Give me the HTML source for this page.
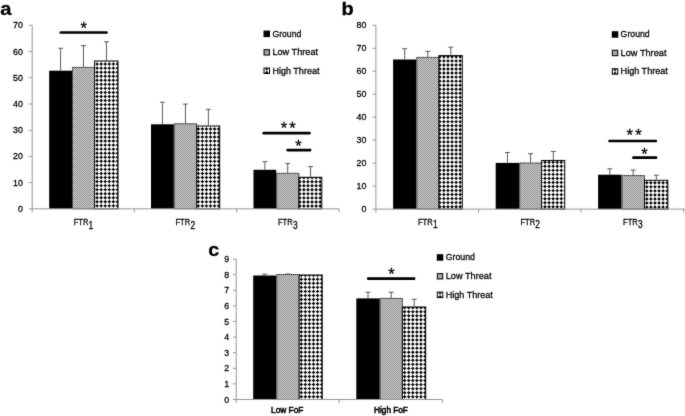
<!DOCTYPE html>
<html lang="en"><head><meta charset="utf-8"><title>Figure</title>
<style>
html,body{margin:0;padding:0;background:#fff;}
body{width:685px;height:416px;overflow:hidden;}
svg{display:block;font-family:"Liberation Sans", sans-serif;}
</style></head><body>
<svg width="685" height="416" viewBox="0 0 685 416">
<rect width="685" height="416" fill="#fff"/>
<defs>
<filter id="soft" x="0" y="0" width="685" height="416" filterUnits="userSpaceOnUse" color-interpolation-filters="sRGB"><feConvolveMatrix order="3" kernelMatrix="0.02 0.07 0.02 0.07 0.64 0.07 0.02 0.07 0.02" divisor="1" edgeMode="duplicate" preserveAlpha="true"/></filter>
<pattern id="pg" width="2" height="2" patternUnits="userSpaceOnUse"><rect width="2" height="2" fill="#c4c4c4"/><rect width="1" height="1" fill="#9a9a9a"/><rect x="1" y="1" width="1" height="1" fill="#9a9a9a"/></pattern>
<clipPath id="c0"><rect x="94.60" y="61.00" width="23.40" height="147.80"/></clipPath><clipPath id="c1"><rect x="196.75" y="126.00" width="22.95" height="82.80"/></clipPath><clipPath id="c2"><rect x="298.90" y="177.30" width="22.90" height="31.50"/></clipPath><clipPath id="c3"><rect x="439.00" y="55.60" width="23.30" height="153.50"/></clipPath><clipPath id="c4"><rect x="541.60" y="160.45" width="23.10" height="48.65"/></clipPath><clipPath id="c5"><rect x="644.50" y="180.30" width="23.30" height="28.80"/></clipPath><clipPath id="c6"><rect x="299.20" y="275.00" width="23.00" height="124.50"/></clipPath><clipPath id="c7"><rect x="402.40" y="307.00" width="23.30" height="92.50"/></clipPath>
<path id="dc" fill="#000" d="M0 -1.72l1.72 1.72-1.72 1.72-1.72-1.72zM0 2.33l1.72 1.72-1.72 1.72-1.72-1.72zM0 6.38l1.72 1.72-1.72 1.72-1.72-1.72zM0 10.43l1.72 1.72-1.72 1.72-1.72-1.72zM0 14.48l1.72 1.72-1.72 1.72-1.72-1.72zM0 18.53l1.72 1.72-1.72 1.72-1.72-1.72zM0 22.58l1.72 1.72-1.72 1.72-1.72-1.72zM0 26.63l1.72 1.72-1.72 1.72-1.72-1.72zM0 30.68l1.72 1.72-1.72 1.72-1.72-1.72zM0 34.73l1.72 1.72-1.72 1.72-1.72-1.72zM0 38.78l1.72 1.72-1.72 1.72-1.72-1.72zM0 42.83l1.72 1.72-1.72 1.72-1.72-1.72zM0 46.88l1.72 1.72-1.72 1.72-1.72-1.72zM0 50.93l1.72 1.72-1.72 1.72-1.72-1.72zM0 54.98l1.72 1.72-1.72 1.72-1.72-1.72zM0 59.03l1.72 1.72-1.72 1.72-1.72-1.72zM0 63.08l1.72 1.72-1.72 1.72-1.72-1.72zM0 67.13l1.72 1.72-1.72 1.72-1.72-1.72zM0 71.18l1.72 1.72-1.72 1.72-1.72-1.72zM0 75.23l1.72 1.72-1.72 1.72-1.72-1.72zM0 79.28l1.72 1.72-1.72 1.72-1.72-1.72zM0 83.33l1.72 1.72-1.72 1.72-1.72-1.72zM0 87.38l1.72 1.72-1.72 1.72-1.72-1.72zM0 91.43l1.72 1.72-1.72 1.72-1.72-1.72zM0 95.48l1.72 1.72-1.72 1.72-1.72-1.72zM0 99.53l1.72 1.72-1.72 1.72-1.72-1.72zM0 103.58l1.72 1.72-1.72 1.72-1.72-1.72zM0 107.63l1.72 1.72-1.72 1.72-1.72-1.72zM0 111.68l1.72 1.72-1.72 1.72-1.72-1.72zM0 115.73l1.72 1.72-1.72 1.72-1.72-1.72zM0 119.78l1.72 1.72-1.72 1.72-1.72-1.72zM0 123.83l1.72 1.72-1.72 1.72-1.72-1.72zM0 127.88l1.72 1.72-1.72 1.72-1.72-1.72zM0 131.93l1.72 1.72-1.72 1.72-1.72-1.72zM0 135.98l1.72 1.72-1.72 1.72-1.72-1.72zM0 140.03l1.72 1.72-1.72 1.72-1.72-1.72zM0 144.08l1.72 1.72-1.72 1.72-1.72-1.72zM0 148.13l1.72 1.72-1.72 1.72-1.72-1.72zM0 152.18l1.72 1.72-1.72 1.72-1.72-1.72zM0 156.23l1.72 1.72-1.72 1.72-1.72-1.72zM0 160.28l1.72 1.72-1.72 1.72-1.72-1.72zM0 164.33l1.72 1.72-1.72 1.72-1.72-1.72z"/>
</defs>
<g filter="url(#soft)">
<rect width="685" height="416" fill="#fff"/>
<rect x="49.20" y="70.70" width="22.80" height="138.10" fill="#000"/>
<rect x="72.50" y="67.40" width="22.10" height="141.40" fill="url(#pg)" stroke="#222" stroke-width="1" stroke-dasharray="1.5 0.5"/>
<rect x="94.60" y="61.00" width="23.40" height="147.80" fill="#fff"/>
<g clip-path="url(#c0)"><path d="M88.96 61.0V208.8M93.03 61.0V208.8M97.10 61.0V208.8M101.17 61.0V208.8M105.24 61.0V208.8M109.31 61.0V208.8M113.38 61.0V208.8M117.45 61.0V208.8M121.52 61.0V208.8M125.59 61.0V208.8M94.6 56.00H118.0M94.6 60.05H118.0M94.6 64.10H118.0M94.6 68.15H118.0M94.6 72.20H118.0M94.6 76.25H118.0M94.6 80.30H118.0M94.6 84.35H118.0M94.6 88.40H118.0M94.6 92.45H118.0M94.6 96.50H118.0M94.6 100.55H118.0M94.6 104.60H118.0M94.6 108.65H118.0M94.6 112.70H118.0M94.6 116.75H118.0M94.6 120.80H118.0M94.6 124.85H118.0M94.6 128.90H118.0M94.6 132.95H118.0M94.6 137.00H118.0M94.6 141.05H118.0M94.6 145.10H118.0M94.6 149.15H118.0M94.6 153.20H118.0M94.6 157.25H118.0M94.6 161.30H118.0M94.6 165.35H118.0M94.6 169.40H118.0M94.6 173.45H118.0M94.6 177.50H118.0M94.6 181.55H118.0M94.6 185.60H118.0M94.6 189.65H118.0M94.6 193.70H118.0M94.6 197.75H118.0M94.6 201.80H118.0M94.6 205.85H118.0M94.6 209.90H118.0M94.6 213.95H118.0" stroke="#989898" stroke-width="0.6" fill="none"/><use href="#dc" x="88.96" y="56.00"/><use href="#dc" x="93.03" y="56.00"/><use href="#dc" x="97.10" y="56.00"/><use href="#dc" x="101.17" y="56.00"/><use href="#dc" x="105.24" y="56.00"/><use href="#dc" x="109.31" y="56.00"/><use href="#dc" x="113.38" y="56.00"/><use href="#dc" x="117.45" y="56.00"/><use href="#dc" x="121.52" y="56.00"/><use href="#dc" x="125.59" y="56.00"/></g>
<rect x="94.60" y="61.00" width="23.40" height="147.80" fill="none" stroke="#000" stroke-width="1"/>
<path d="M60.60 70.70V48.30M58.10 48.30H63.10" stroke="#5a5a5a" stroke-width="1" fill="none"/>
<path d="M83.45 67.40V45.60M80.95 45.60H85.95" stroke="#5a5a5a" stroke-width="1" fill="none"/>
<path d="M106.45 61.00V41.80M103.95 41.80H108.95" stroke="#5a5a5a" stroke-width="1" fill="none"/>
<rect x="151.00" y="124.30" width="22.80" height="84.50" fill="#000"/>
<rect x="174.30" y="123.80" width="22.45" height="85.00" fill="url(#pg)" stroke="#222" stroke-width="1" stroke-dasharray="1.5 0.5"/>
<rect x="196.75" y="126.00" width="22.95" height="82.80" fill="#fff"/>
<g clip-path="url(#c1)"><path d="M190.16 126.0V208.8M194.23 126.0V208.8M198.30 126.0V208.8M202.37 126.0V208.8M206.44 126.0V208.8M210.51 126.0V208.8M214.58 126.0V208.8M218.65 126.0V208.8M222.72 126.0V208.8M226.79 126.0V208.8M196.8 120.85H219.7M196.8 124.90H219.7M196.8 128.95H219.7M196.8 133.00H219.7M196.8 137.05H219.7M196.8 141.10H219.7M196.8 145.15H219.7M196.8 149.20H219.7M196.8 153.25H219.7M196.8 157.30H219.7M196.8 161.35H219.7M196.8 165.40H219.7M196.8 169.45H219.7M196.8 173.50H219.7M196.8 177.55H219.7M196.8 181.60H219.7M196.8 185.65H219.7M196.8 189.70H219.7M196.8 193.75H219.7M196.8 197.80H219.7M196.8 201.85H219.7M196.8 205.90H219.7M196.8 209.95H219.7M196.8 214.00H219.7" stroke="#989898" stroke-width="0.6" fill="none"/><use href="#dc" x="190.16" y="120.85"/><use href="#dc" x="194.23" y="120.85"/><use href="#dc" x="198.30" y="120.85"/><use href="#dc" x="202.37" y="120.85"/><use href="#dc" x="206.44" y="120.85"/><use href="#dc" x="210.51" y="120.85"/><use href="#dc" x="214.58" y="120.85"/><use href="#dc" x="218.65" y="120.85"/><use href="#dc" x="222.72" y="120.85"/><use href="#dc" x="226.79" y="120.85"/></g>
<rect x="196.75" y="126.00" width="22.95" height="82.80" fill="none" stroke="#000" stroke-width="1"/>
<path d="M162.40 124.30V102.20M159.90 102.20H164.90" stroke="#5a5a5a" stroke-width="1" fill="none"/>
<path d="M185.43 123.80V104.10M182.93 104.10H187.93" stroke="#5a5a5a" stroke-width="1" fill="none"/>
<path d="M208.38 126.00V109.30M205.88 109.30H210.88" stroke="#5a5a5a" stroke-width="1" fill="none"/>
<rect x="253.50" y="169.80" width="22.70" height="39.00" fill="#000"/>
<rect x="276.70" y="173.30" width="22.20" height="35.50" fill="url(#pg)" stroke="#222" stroke-width="1" stroke-dasharray="1.5 0.5"/>
<rect x="298.90" y="177.30" width="22.90" height="31.50" fill="#fff"/>
<g clip-path="url(#c2)"><path d="M291.69 177.3V208.8M295.76 177.3V208.8M299.83 177.3V208.8M303.90 177.3V208.8M307.97 177.3V208.8M312.04 177.3V208.8M316.11 177.3V208.8M320.18 177.3V208.8M324.25 177.3V208.8M328.32 177.3V208.8M298.9 169.55H321.8M298.9 173.60H321.8M298.9 177.65H321.8M298.9 181.70H321.8M298.9 185.75H321.8M298.9 189.80H321.8M298.9 193.85H321.8M298.9 197.90H321.8M298.9 201.95H321.8M298.9 206.00H321.8M298.9 210.05H321.8M298.9 214.10H321.8" stroke="#989898" stroke-width="0.6" fill="none"/><use href="#dc" x="291.69" y="169.55"/><use href="#dc" x="295.76" y="169.55"/><use href="#dc" x="299.83" y="169.55"/><use href="#dc" x="303.90" y="169.55"/><use href="#dc" x="307.97" y="169.55"/><use href="#dc" x="312.04" y="169.55"/><use href="#dc" x="316.11" y="169.55"/><use href="#dc" x="320.18" y="169.55"/><use href="#dc" x="324.25" y="169.55"/><use href="#dc" x="328.32" y="169.55"/></g>
<rect x="298.90" y="177.30" width="22.90" height="31.50" fill="none" stroke="#000" stroke-width="1"/>
<path d="M264.85 169.80V161.70M262.35 161.70H267.35" stroke="#5a5a5a" stroke-width="1" fill="none"/>
<path d="M287.70 173.30V163.50M285.20 163.50H290.20" stroke="#5a5a5a" stroke-width="1" fill="none"/>
<path d="M310.50 177.30V166.60M308.00 166.60H313.00" stroke="#5a5a5a" stroke-width="1" fill="none"/>
<path d="M32.20 25.40V212.30M28.90 208.80H339.20" stroke="#969696" stroke-width="1" fill="none"/>
<path d="M28.90 182.60H32.20M28.90 156.40H32.20M28.90 130.20H32.20M28.90 104.00H32.20M28.90 77.80H32.20M28.90 51.60H32.20M28.90 25.40H32.20M134.30 208.80V212.30M236.60 208.80V212.30M339.00 208.80V212.30" stroke="#969696" stroke-width="1" fill="none"/>
<text x="22.8" y="211.7" font-size="9.3" text-anchor="end" textLength="4.9" lengthAdjust="spacingAndGlyphs" fill="#000" stroke="#000" stroke-width="0.28">0</text>
<text x="22.8" y="185.5" font-size="9.3" text-anchor="end" textLength="9.8" lengthAdjust="spacingAndGlyphs" fill="#000" stroke="#000" stroke-width="0.28">10</text>
<text x="22.8" y="159.3" font-size="9.3" text-anchor="end" textLength="9.8" lengthAdjust="spacingAndGlyphs" fill="#000" stroke="#000" stroke-width="0.28">20</text>
<text x="22.8" y="133.1" font-size="9.3" text-anchor="end" textLength="9.8" lengthAdjust="spacingAndGlyphs" fill="#000" stroke="#000" stroke-width="0.28">30</text>
<text x="22.8" y="106.9" font-size="9.3" text-anchor="end" textLength="9.8" lengthAdjust="spacingAndGlyphs" fill="#000" stroke="#000" stroke-width="0.28">40</text>
<text x="22.8" y="80.7" font-size="9.3" text-anchor="end" textLength="9.8" lengthAdjust="spacingAndGlyphs" fill="#000" stroke="#000" stroke-width="0.28">50</text>
<text x="22.8" y="54.5" font-size="9.3" text-anchor="end" textLength="9.8" lengthAdjust="spacingAndGlyphs" fill="#000" stroke="#000" stroke-width="0.28">60</text>
<text x="22.8" y="28.3" font-size="9.3" text-anchor="end" textLength="9.8" lengthAdjust="spacingAndGlyphs" fill="#000" stroke="#000" stroke-width="0.28">70</text>
<line x1="60.80" y1="32.50" x2="106.50" y2="32.50" stroke="#000" stroke-width="2.7" stroke-linecap="round"/>
<text x="83.7" y="33.8" font-size="16.5" text-anchor="middle" fill="#000" stroke="#000" stroke-width="0.28">*</text>
<line x1="263.70" y1="133.20" x2="309.40" y2="133.20" stroke="#000" stroke-width="2.7" stroke-linecap="round"/>
<text x="283.9" y="133.7" font-size="16.5" text-anchor="middle" fill="#000" stroke="#000" stroke-width="0.28">*</text>
<text x="292.5" y="133.7" font-size="16.5" text-anchor="middle" fill="#000" stroke="#000" stroke-width="0.28">*</text>
<line x1="287.60" y1="150.10" x2="310.10" y2="150.10" stroke="#000" stroke-width="2.7" stroke-linecap="round"/>
<text x="298.4" y="151.8" font-size="16.5" text-anchor="middle" fill="#000" stroke="#000" stroke-width="0.28">*</text>
<rect x="263.50" y="30.60" width="6.5" height="6.5" fill="#000"/>
<text x="272.4" y="36.8" font-size="9.4" textLength="28.9" lengthAdjust="spacingAndGlyphs" fill="#000" stroke="#000" stroke-width="0.28">Ground</text>
<rect x="263.50" y="49.10" width="6.5" height="6.5" fill="#161616"/><rect x="264.65" y="50.25" width="4.2" height="4.2" fill="#a8a8a8"/>
<text x="272.4" y="55.3" font-size="9.4" textLength="45.7" lengthAdjust="spacingAndGlyphs" fill="#000" stroke="#000" stroke-width="0.28">Low Threat</text>
<rect x="264.00" y="68.00" width="5.5" height="5.5" fill="#fff" stroke="#000" stroke-width="1"/>
<path d="M264.80 68.50H268.70L266.75 70.70ZM264.80 73.00H268.70L266.75 70.80Z" fill="#000"/>
<text x="272.4" y="73.7" font-size="9.4" textLength="47.1" lengthAdjust="spacingAndGlyphs" fill="#000" stroke="#000" stroke-width="0.28">High Threat</text>
<text x="73.7" y="225.2" font-size="9.5" textLength="14.7" lengthAdjust="spacingAndGlyphs" fill="#000" stroke="#000" stroke-width="0.28">FTR</text>
<text x="88.6" y="228.5" font-size="10.3" textLength="4.7" lengthAdjust="spacingAndGlyphs" fill="#000" stroke="#000" stroke-width="0.28">1</text>
<text x="175.5" y="225.2" font-size="9.5" textLength="14.7" lengthAdjust="spacingAndGlyphs" fill="#000" stroke="#000" stroke-width="0.28">FTR</text>
<text x="190.4" y="228.5" font-size="10.3" textLength="4.7" lengthAdjust="spacingAndGlyphs" fill="#000" stroke="#000" stroke-width="0.28">2</text>
<text x="278.0" y="225.2" font-size="9.5" textLength="14.7" lengthAdjust="spacingAndGlyphs" fill="#000" stroke="#000" stroke-width="0.28">FTR</text>
<text x="292.9" y="228.5" font-size="10.3" textLength="4.7" lengthAdjust="spacingAndGlyphs" fill="#000" stroke="#000" stroke-width="0.28">3</text>
<text x="0.2" y="15.1" font-size="17.5" textLength="11.2" lengthAdjust="spacingAndGlyphs" font-weight="bold" fill="#000" stroke="#000" stroke-width="0.28">a</text>
<rect x="393.10" y="59.50" width="23.20" height="149.60" fill="#000"/>
<rect x="416.80" y="57.40" width="22.20" height="151.70" fill="url(#pg)" stroke="#222" stroke-width="1" stroke-dasharray="1.5 0.5"/>
<rect x="439.00" y="55.60" width="23.30" height="153.50" fill="#fff"/>
<g clip-path="url(#c3)"><path d="M431.69 55.6V209.1M435.76 55.6V209.1M439.83 55.6V209.1M443.90 55.6V209.1M447.97 55.6V209.1M452.04 55.6V209.1M456.11 55.6V209.1M460.18 55.6V209.1M464.25 55.6V209.1M468.32 55.6V209.1M439.0 48.75H462.3M439.0 52.80H462.3M439.0 56.85H462.3M439.0 60.90H462.3M439.0 64.95H462.3M439.0 69.00H462.3M439.0 73.05H462.3M439.0 77.10H462.3M439.0 81.15H462.3M439.0 85.20H462.3M439.0 89.25H462.3M439.0 93.30H462.3M439.0 97.35H462.3M439.0 101.40H462.3M439.0 105.45H462.3M439.0 109.50H462.3M439.0 113.55H462.3M439.0 117.60H462.3M439.0 121.65H462.3M439.0 125.70H462.3M439.0 129.75H462.3M439.0 133.80H462.3M439.0 137.85H462.3M439.0 141.90H462.3M439.0 145.95H462.3M439.0 150.00H462.3M439.0 154.05H462.3M439.0 158.10H462.3M439.0 162.15H462.3M439.0 166.20H462.3M439.0 170.25H462.3M439.0 174.30H462.3M439.0 178.35H462.3M439.0 182.40H462.3M439.0 186.45H462.3M439.0 190.50H462.3M439.0 194.55H462.3M439.0 198.60H462.3M439.0 202.65H462.3M439.0 206.70H462.3M439.0 210.75H462.3M439.0 214.80H462.3" stroke="#989898" stroke-width="0.6" fill="none"/><use href="#dc" x="431.69" y="48.75"/><use href="#dc" x="435.76" y="48.75"/><use href="#dc" x="439.83" y="48.75"/><use href="#dc" x="443.90" y="48.75"/><use href="#dc" x="447.97" y="48.75"/><use href="#dc" x="452.04" y="48.75"/><use href="#dc" x="456.11" y="48.75"/><use href="#dc" x="460.18" y="48.75"/><use href="#dc" x="464.25" y="48.75"/><use href="#dc" x="468.32" y="48.75"/></g>
<rect x="439.00" y="55.60" width="23.30" height="153.50" fill="none" stroke="#000" stroke-width="1"/>
<path d="M404.70 59.50V48.70M402.20 48.70H407.20" stroke="#5a5a5a" stroke-width="1" fill="none"/>
<path d="M427.80 57.40V51.40M425.30 51.40H430.30" stroke="#5a5a5a" stroke-width="1" fill="none"/>
<path d="M450.80 55.60V47.20M448.30 47.20H453.30" stroke="#5a5a5a" stroke-width="1" fill="none"/>
<rect x="495.70" y="162.90" width="23.50" height="46.20" fill="#000"/>
<rect x="519.70" y="163.00" width="21.90" height="46.10" fill="url(#pg)" stroke="#222" stroke-width="1" stroke-dasharray="1.5 0.5"/>
<rect x="541.60" y="160.45" width="23.10" height="48.65" fill="#fff"/>
<g clip-path="url(#c4)"><path d="M536.86 160.4V209.1M540.93 160.4V209.1M545.00 160.4V209.1M549.07 160.4V209.1M553.14 160.4V209.1M557.21 160.4V209.1M561.28 160.4V209.1M565.35 160.4V209.1M569.42 160.4V209.1M541.6 154.15H564.7M541.6 158.20H564.7M541.6 162.25H564.7M541.6 166.30H564.7M541.6 170.35H564.7M541.6 174.40H564.7M541.6 178.45H564.7M541.6 182.50H564.7M541.6 186.55H564.7M541.6 190.60H564.7M541.6 194.65H564.7M541.6 198.70H564.7M541.6 202.75H564.7M541.6 206.80H564.7M541.6 210.85H564.7M541.6 214.90H564.7" stroke="#989898" stroke-width="0.6" fill="none"/><use href="#dc" x="536.86" y="154.15"/><use href="#dc" x="540.93" y="154.15"/><use href="#dc" x="545.00" y="154.15"/><use href="#dc" x="549.07" y="154.15"/><use href="#dc" x="553.14" y="154.15"/><use href="#dc" x="557.21" y="154.15"/><use href="#dc" x="561.28" y="154.15"/><use href="#dc" x="565.35" y="154.15"/><use href="#dc" x="569.42" y="154.15"/></g>
<rect x="541.60" y="160.45" width="23.10" height="48.65" fill="none" stroke="#000" stroke-width="1"/>
<path d="M507.45 162.90V152.50M504.95 152.50H509.95" stroke="#5a5a5a" stroke-width="1" fill="none"/>
<path d="M530.55 163.00V153.70M528.05 153.70H533.05" stroke="#5a5a5a" stroke-width="1" fill="none"/>
<path d="M553.30 160.45V151.50M550.80 151.50H555.80" stroke="#5a5a5a" stroke-width="1" fill="none"/>
<rect x="598.10" y="174.70" width="23.40" height="34.40" fill="#000"/>
<rect x="622.00" y="175.60" width="22.50" height="33.50" fill="url(#pg)" stroke="#222" stroke-width="1" stroke-dasharray="1.5 0.5"/>
<rect x="644.50" y="180.30" width="23.30" height="28.80" fill="#fff"/>
<g clip-path="url(#c5)"><path d="M638.66 180.3V209.1M642.73 180.3V209.1M646.80 180.3V209.1M650.87 180.3V209.1M654.94 180.3V209.1M659.01 180.3V209.1M663.08 180.3V209.1M667.15 180.3V209.1M671.22 180.3V209.1M675.29 180.3V209.1M644.5 174.70H667.8M644.5 178.75H667.8M644.5 182.80H667.8M644.5 186.85H667.8M644.5 190.90H667.8M644.5 194.95H667.8M644.5 199.00H667.8M644.5 203.05H667.8M644.5 207.10H667.8M644.5 211.15H667.8M644.5 215.20H667.8" stroke="#989898" stroke-width="0.6" fill="none"/><use href="#dc" x="638.66" y="174.70"/><use href="#dc" x="642.73" y="174.70"/><use href="#dc" x="646.80" y="174.70"/><use href="#dc" x="650.87" y="174.70"/><use href="#dc" x="654.94" y="174.70"/><use href="#dc" x="659.01" y="174.70"/><use href="#dc" x="663.08" y="174.70"/><use href="#dc" x="667.15" y="174.70"/><use href="#dc" x="671.22" y="174.70"/><use href="#dc" x="675.29" y="174.70"/></g>
<rect x="644.50" y="180.30" width="23.30" height="28.80" fill="none" stroke="#000" stroke-width="1"/>
<path d="M609.80 174.70V168.80M607.30 168.80H612.30" stroke="#5a5a5a" stroke-width="1" fill="none"/>
<path d="M633.15 175.60V170.00M630.65 170.00H635.65" stroke="#5a5a5a" stroke-width="1" fill="none"/>
<path d="M656.30 180.30V175.20M653.80 175.20H658.80" stroke="#5a5a5a" stroke-width="1" fill="none"/>
<path d="M375.90 25.30V212.60M372.60 209.10H685.00" stroke="#969696" stroke-width="1" fill="none"/>
<path d="M372.60 186.12H375.90M372.60 163.15H375.90M372.60 140.18H375.90M372.60 117.20H375.90M372.60 94.22H375.90M372.60 71.25H375.90M372.60 48.28H375.90M372.60 25.30H375.90M478.50 209.10V212.60M581.00 209.10V212.60M683.60 209.10V212.60" stroke="#969696" stroke-width="1" fill="none"/>
<text x="366.4" y="212.0" font-size="9.3" text-anchor="end" textLength="4.9" lengthAdjust="spacingAndGlyphs" fill="#000" stroke="#000" stroke-width="0.28">0</text>
<text x="366.4" y="189.0" font-size="9.3" text-anchor="end" textLength="9.8" lengthAdjust="spacingAndGlyphs" fill="#000" stroke="#000" stroke-width="0.28">10</text>
<text x="366.4" y="166.1" font-size="9.3" text-anchor="end" textLength="9.8" lengthAdjust="spacingAndGlyphs" fill="#000" stroke="#000" stroke-width="0.28">20</text>
<text x="366.4" y="143.1" font-size="9.3" text-anchor="end" textLength="9.8" lengthAdjust="spacingAndGlyphs" fill="#000" stroke="#000" stroke-width="0.28">30</text>
<text x="366.4" y="120.1" font-size="9.3" text-anchor="end" textLength="9.8" lengthAdjust="spacingAndGlyphs" fill="#000" stroke="#000" stroke-width="0.28">40</text>
<text x="366.4" y="97.1" font-size="9.3" text-anchor="end" textLength="9.8" lengthAdjust="spacingAndGlyphs" fill="#000" stroke="#000" stroke-width="0.28">50</text>
<text x="366.4" y="74.2" font-size="9.3" text-anchor="end" textLength="9.8" lengthAdjust="spacingAndGlyphs" fill="#000" stroke="#000" stroke-width="0.28">60</text>
<text x="366.4" y="51.2" font-size="9.3" text-anchor="end" textLength="9.8" lengthAdjust="spacingAndGlyphs" fill="#000" stroke="#000" stroke-width="0.28">70</text>
<text x="366.4" y="28.2" font-size="9.3" text-anchor="end" textLength="9.8" lengthAdjust="spacingAndGlyphs" fill="#000" stroke="#000" stroke-width="0.28">80</text>
<line x1="609.50" y1="141.00" x2="655.80" y2="141.00" stroke="#000" stroke-width="2.7" stroke-linecap="round"/>
<text x="629.8" y="141.4" font-size="16.5" text-anchor="middle" fill="#000" stroke="#000" stroke-width="0.28">*</text>
<text x="638.4" y="141.4" font-size="16.5" text-anchor="middle" fill="#000" stroke="#000" stroke-width="0.28">*</text>
<line x1="633.40" y1="157.70" x2="656.10" y2="157.70" stroke="#000" stroke-width="2.7" stroke-linecap="round"/>
<text x="644.4" y="159.6" font-size="16.5" text-anchor="middle" fill="#000" stroke="#000" stroke-width="0.28">*</text>
<rect x="611.80" y="31.20" width="6.5" height="6.5" fill="#000"/>
<text x="620.6" y="37.4" font-size="9.4" textLength="29.1" lengthAdjust="spacingAndGlyphs" fill="#000" stroke="#000" stroke-width="0.28">Ground</text>
<rect x="611.80" y="49.70" width="6.5" height="6.5" fill="#161616"/><rect x="612.95" y="50.85" width="4.2" height="4.2" fill="#a8a8a8"/>
<text x="620.6" y="55.9" font-size="9.4" textLength="45.9" lengthAdjust="spacingAndGlyphs" fill="#000" stroke="#000" stroke-width="0.28">Low Threat</text>
<rect x="612.30" y="68.70" width="5.5" height="5.5" fill="#fff" stroke="#000" stroke-width="1"/>
<path d="M613.10 69.20H617.00L615.05 71.40ZM613.10 73.70H617.00L615.05 71.50Z" fill="#000"/>
<text x="620.6" y="74.4" font-size="9.4" textLength="47.2" lengthAdjust="spacingAndGlyphs" fill="#000" stroke="#000" stroke-width="0.28">High Threat</text>
<text x="418.0" y="224.8" font-size="9.5" textLength="14.7" lengthAdjust="spacingAndGlyphs" fill="#000" stroke="#000" stroke-width="0.28">FTR</text>
<text x="432.9" y="228.1" font-size="10.3" textLength="4.7" lengthAdjust="spacingAndGlyphs" fill="#000" stroke="#000" stroke-width="0.28">1</text>
<text x="520.4" y="224.8" font-size="9.5" textLength="14.7" lengthAdjust="spacingAndGlyphs" fill="#000" stroke="#000" stroke-width="0.28">FTR</text>
<text x="535.3" y="228.1" font-size="10.3" textLength="4.7" lengthAdjust="spacingAndGlyphs" fill="#000" stroke="#000" stroke-width="0.28">2</text>
<text x="623.1" y="224.8" font-size="9.5" textLength="14.7" lengthAdjust="spacingAndGlyphs" fill="#000" stroke="#000" stroke-width="0.28">FTR</text>
<text x="638.0" y="228.1" font-size="10.3" textLength="4.7" lengthAdjust="spacingAndGlyphs" fill="#000" stroke="#000" stroke-width="0.28">3</text>
<text x="341.4" y="14.6" font-size="18.7" textLength="12.2" lengthAdjust="spacingAndGlyphs" font-weight="bold" fill="#000" stroke="#000" stroke-width="0.28">b</text>
<rect x="253.20" y="275.50" width="23.10" height="124.00" fill="#000"/>
<rect x="276.80" y="274.50" width="22.40" height="125.00" fill="url(#pg)" stroke="#222" stroke-width="1" stroke-dasharray="1.5 0.5"/>
<rect x="299.20" y="275.00" width="23.00" height="124.50" fill="#fff"/>
<g clip-path="url(#c6)"><path d="M293.16 275.0V399.5M297.23 275.0V399.5M301.30 275.0V399.5M305.37 275.0V399.5M309.44 275.0V399.5M313.51 275.0V399.5M317.58 275.0V399.5M321.65 275.0V399.5M325.72 275.0V399.5M329.79 275.0V399.5M299.2 267.10H322.2M299.2 271.15H322.2M299.2 275.20H322.2M299.2 279.25H322.2M299.2 283.30H322.2M299.2 287.35H322.2M299.2 291.40H322.2M299.2 295.45H322.2M299.2 299.50H322.2M299.2 303.55H322.2M299.2 307.60H322.2M299.2 311.65H322.2M299.2 315.70H322.2M299.2 319.75H322.2M299.2 323.80H322.2M299.2 327.85H322.2M299.2 331.90H322.2M299.2 335.95H322.2M299.2 340.00H322.2M299.2 344.05H322.2M299.2 348.10H322.2M299.2 352.15H322.2M299.2 356.20H322.2M299.2 360.25H322.2M299.2 364.30H322.2M299.2 368.35H322.2M299.2 372.40H322.2M299.2 376.45H322.2M299.2 380.50H322.2M299.2 384.55H322.2M299.2 388.60H322.2M299.2 392.65H322.2M299.2 396.70H322.2M299.2 400.75H322.2M299.2 404.80H322.2" stroke="#989898" stroke-width="0.6" fill="none"/><use href="#dc" x="293.16" y="267.10"/><use href="#dc" x="297.23" y="267.10"/><use href="#dc" x="301.30" y="267.10"/><use href="#dc" x="305.37" y="267.10"/><use href="#dc" x="309.44" y="267.10"/><use href="#dc" x="313.51" y="267.10"/><use href="#dc" x="317.58" y="267.10"/><use href="#dc" x="321.65" y="267.10"/><use href="#dc" x="325.72" y="267.10"/><use href="#dc" x="329.79" y="267.10"/></g>
<rect x="299.20" y="275.00" width="23.00" height="124.50" fill="none" stroke="#000" stroke-width="1"/>
<path d="M264.75 275.50V274.20M262.25 274.20H267.25" stroke="#5a5a5a" stroke-width="1" fill="none"/>
<path d="M287.90 274.50V274.00M285.40 274.00H290.40" stroke="#5a5a5a" stroke-width="1" fill="none"/>
<rect x="356.30" y="298.40" width="23.40" height="101.10" fill="#000"/>
<rect x="380.20" y="298.40" width="22.20" height="101.10" fill="url(#pg)" stroke="#222" stroke-width="1" stroke-dasharray="1.5 0.5"/>
<rect x="402.40" y="307.00" width="23.30" height="92.50" fill="#fff"/>
<g clip-path="url(#c7)"><path d="M396.51 307.0V399.5M400.58 307.0V399.5M404.65 307.0V399.5M408.72 307.0V399.5M412.79 307.0V399.5M416.86 307.0V399.5M420.93 307.0V399.5M425.00 307.0V399.5M429.07 307.0V399.5M433.14 307.0V399.5M402.4 299.55H425.7M402.4 303.60H425.7M402.4 307.65H425.7M402.4 311.70H425.7M402.4 315.75H425.7M402.4 319.80H425.7M402.4 323.85H425.7M402.4 327.90H425.7M402.4 331.95H425.7M402.4 336.00H425.7M402.4 340.05H425.7M402.4 344.10H425.7M402.4 348.15H425.7M402.4 352.20H425.7M402.4 356.25H425.7M402.4 360.30H425.7M402.4 364.35H425.7M402.4 368.40H425.7M402.4 372.45H425.7M402.4 376.50H425.7M402.4 380.55H425.7M402.4 384.60H425.7M402.4 388.65H425.7M402.4 392.70H425.7M402.4 396.75H425.7M402.4 400.80H425.7M402.4 404.85H425.7" stroke="#989898" stroke-width="0.6" fill="none"/><use href="#dc" x="396.51" y="299.55"/><use href="#dc" x="400.58" y="299.55"/><use href="#dc" x="404.65" y="299.55"/><use href="#dc" x="408.72" y="299.55"/><use href="#dc" x="412.79" y="299.55"/><use href="#dc" x="416.86" y="299.55"/><use href="#dc" x="420.93" y="299.55"/><use href="#dc" x="425.00" y="299.55"/><use href="#dc" x="429.07" y="299.55"/><use href="#dc" x="433.14" y="299.55"/></g>
<rect x="402.40" y="307.00" width="23.30" height="92.50" fill="none" stroke="#000" stroke-width="1"/>
<path d="M368.00 298.40V292.20M365.50 292.20H370.50" stroke="#5a5a5a" stroke-width="1" fill="none"/>
<path d="M391.20 298.40V292.20M388.70 292.20H393.70" stroke="#5a5a5a" stroke-width="1" fill="none"/>
<path d="M414.20 307.00V299.30M411.70 299.30H416.70" stroke="#5a5a5a" stroke-width="1" fill="none"/>
<path d="M236.20 259.10V403.00M232.90 399.50H442.50" stroke="#969696" stroke-width="1" fill="none"/>
<path d="M232.90 383.90H236.20M232.90 368.30H236.20M232.90 352.70H236.20M232.90 337.10H236.20M232.90 321.50H236.20M232.90 305.90H236.20M232.90 290.30H236.20M232.90 274.70H236.20M232.90 259.10H236.20M339.20 399.50V403.00M442.30 399.50V403.00" stroke="#969696" stroke-width="1" fill="none"/>
<text x="229.1" y="402.6" font-size="9.7" text-anchor="end" textLength="4.9" lengthAdjust="spacingAndGlyphs" fill="#000" stroke="#000" stroke-width="0.28">0</text>
<text x="229.1" y="387.0" font-size="9.7" text-anchor="end" textLength="4.9" lengthAdjust="spacingAndGlyphs" fill="#000" stroke="#000" stroke-width="0.28">1</text>
<text x="229.1" y="371.4" font-size="9.7" text-anchor="end" textLength="4.9" lengthAdjust="spacingAndGlyphs" fill="#000" stroke="#000" stroke-width="0.28">2</text>
<text x="229.1" y="355.8" font-size="9.7" text-anchor="end" textLength="4.9" lengthAdjust="spacingAndGlyphs" fill="#000" stroke="#000" stroke-width="0.28">3</text>
<text x="229.1" y="340.2" font-size="9.7" text-anchor="end" textLength="4.9" lengthAdjust="spacingAndGlyphs" fill="#000" stroke="#000" stroke-width="0.28">4</text>
<text x="229.1" y="324.6" font-size="9.7" text-anchor="end" textLength="4.9" lengthAdjust="spacingAndGlyphs" fill="#000" stroke="#000" stroke-width="0.28">5</text>
<text x="229.1" y="309.0" font-size="9.7" text-anchor="end" textLength="4.9" lengthAdjust="spacingAndGlyphs" fill="#000" stroke="#000" stroke-width="0.28">6</text>
<text x="229.1" y="293.4" font-size="9.7" text-anchor="end" textLength="4.9" lengthAdjust="spacingAndGlyphs" fill="#000" stroke="#000" stroke-width="0.28">7</text>
<text x="229.1" y="277.8" font-size="9.7" text-anchor="end" textLength="4.9" lengthAdjust="spacingAndGlyphs" fill="#000" stroke="#000" stroke-width="0.28">8</text>
<text x="229.1" y="262.2" font-size="9.7" text-anchor="end" textLength="4.9" lengthAdjust="spacingAndGlyphs" fill="#000" stroke="#000" stroke-width="0.28">9</text>
<line x1="368.20" y1="278.70" x2="414.10" y2="278.70" stroke="#000" stroke-width="2.7" stroke-linecap="round"/>
<text x="391.5" y="280.1" font-size="16.5" text-anchor="middle" fill="#000" stroke="#000" stroke-width="0.28">*</text>
<rect x="436.80" y="254.20" width="6.5" height="6.5" fill="#000"/>
<text x="445.7" y="260.4" font-size="9.4" textLength="29.3" lengthAdjust="spacingAndGlyphs" fill="#000" stroke="#000" stroke-width="0.28">Ground</text>
<rect x="436.80" y="273.00" width="6.5" height="6.5" fill="#161616"/><rect x="437.95" y="274.15" width="4.2" height="4.2" fill="#a8a8a8"/>
<text x="445.7" y="279.2" font-size="9.4" textLength="45.8" lengthAdjust="spacingAndGlyphs" fill="#000" stroke="#000" stroke-width="0.28">Low Threat</text>
<rect x="437.30" y="292.10" width="5.5" height="5.5" fill="#fff" stroke="#000" stroke-width="1"/>
<path d="M438.10 292.60H442.00L440.05 294.80ZM438.10 297.10H442.00L440.05 294.90Z" fill="#000"/>
<text x="445.7" y="297.8" font-size="9.4" textLength="47.1" lengthAdjust="spacingAndGlyphs" fill="#000" stroke="#000" stroke-width="0.28">High Threat</text>
<text x="271.0" y="413.3" font-size="9" textLength="32.4" lengthAdjust="spacingAndGlyphs" fill="#000" stroke="#000" stroke-width="0.55">Low FoF</text>
<text x="374.1" y="412.5" font-size="8.8" textLength="33.8" lengthAdjust="spacingAndGlyphs" fill="#000" stroke="#000" stroke-width="0.55">High FoF</text>
<text x="208.3" y="255.7" font-size="19.2" textLength="11.0" lengthAdjust="spacingAndGlyphs" font-weight="bold" fill="#000" stroke="#000" stroke-width="0.28">c</text>
</g>
</svg>
</body></html>
